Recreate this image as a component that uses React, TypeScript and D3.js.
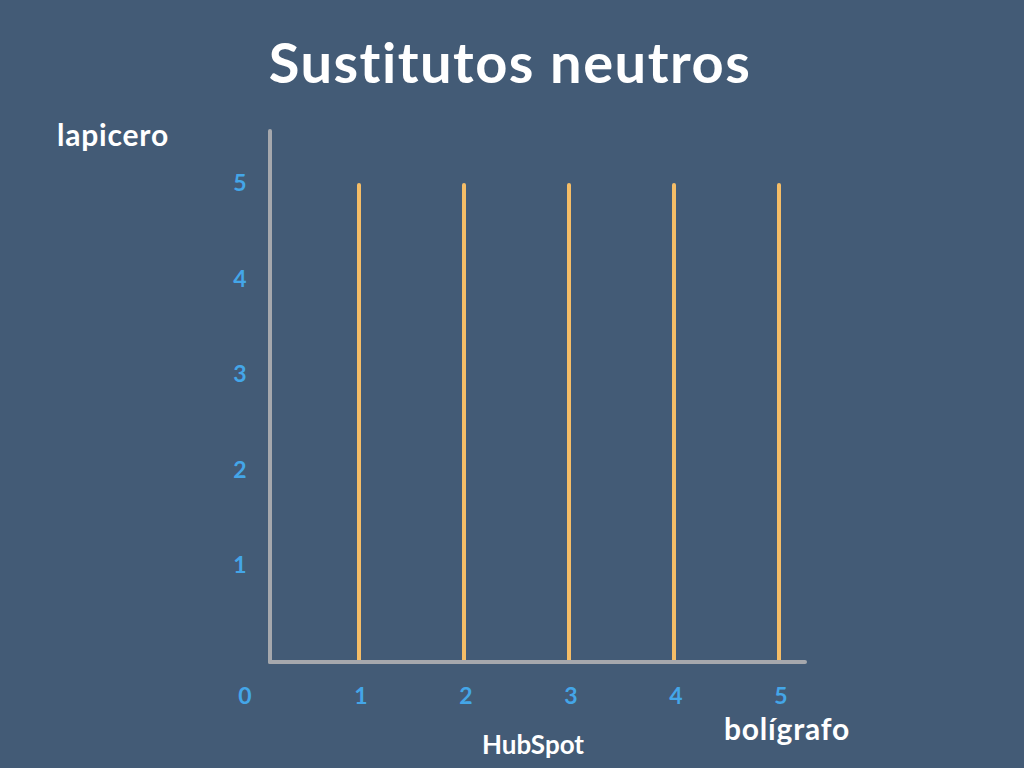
import React, { useEffect, useRef } from 'react';
import * as d3 from 'd3';

// Quantities of bolígrafo at which each indifference line sits
const lineValues = [1, 2, 3, 4, 5];
// Each line runs from lapicero = 0 up to this value
const lineTop = 5;
const xTicks = [1, 2, 3, 4, 5];
const yTicks = [1, 2, 3, 4, 5];

const W = 1024;
const H = 768;

const App: React.FC = () => {
  const svgRef = useRef<SVGSVGElement>(null);

  useEffect(() => {
    if (!svgRef.current) return;
    const svg = d3.select(svgRef.current);
    svg.selectAll('*').remove();

    const font = 'Lato, "Open Sans", sans-serif';
    const x = d3.scaleLinear().domain([0, 5]).range([254, 779]);
    const y = d3.scaleLinear().domain([0, 5]).range([663, 185]);
    const axisX0 = 270;
    const axisY0 = 662;

    svg.append('rect').attr('width', W).attr('height', H).attr('fill', '#435b76');

    // Title
    svg.append('text')
      .attr('x', 510).attr('y', 83)
      .attr('text-anchor', 'middle')
      .style('font-family', font).style('font-weight', 700).style('font-size', '56px')
      .style('letter-spacing', '1.5px')
      .attr('fill', '#ffffff')
      .text('Sustitutos neutros');

    // Indifference lines
    svg.selectAll('line.ind')
      .data(lineValues)
      .join('line')
      .attr('class', 'ind')
      .attr('x1', d => x(d)).attr('x2', d => x(d))
      .attr('y1', y(0) - 2).attr('y2', y(lineTop))
      .attr('stroke', '#f5bd67').attr('stroke-width', 4).attr('stroke-linecap', 'round');

    // Axes
    svg.append('line')
      .attr('x1', axisX0).attr('x2', axisX0).attr('y1', 131).attr('y2', axisY0)
      .attr('stroke', '#a6a8ad').attr('stroke-width', 4).attr('stroke-linecap', 'round');
    svg.append('line')
      .attr('x1', axisX0).attr('x2', 805).attr('y1', axisY0).attr('y2', axisY0)
      .attr('stroke', '#a6a8ad').attr('stroke-width', 4).attr('stroke-linecap', 'round');

    const tickStyle = (sel: d3.Selection<any, any, any, any>) =>
      sel.attr('text-anchor', 'middle')
        .attr('dominant-baseline', 'central')
        .style('font-family', font).style('font-weight', 700).style('font-size', '23px')
        .attr('fill', '#44a6e8');

    svg.selectAll('text.xt')
      .data(xTicks)
      .join('text')
      .attr('class', 'xt')
      .attr('x', d => x(d) + 2).attr('y', 695)
      .text(d => d)
      .call(tickStyle);

    svg.selectAll('text.yt')
      .data(yTicks)
      .join('text')
      .attr('class', 'yt')
      .attr('x', 240).attr('y', d => y(d) - 3)
      .text(d => d)
      .call(tickStyle);

    svg.append('text')
      .attr('x', 245).attr('y', 695)
      .text('0')
      .call(tickStyle);

    // Axis labels
    svg.append('text')
      .attr('x', 57).attr('y', 146)
      .style('font-family', font).style('font-weight', 700).style('font-size', '30px')
      .style('letter-spacing', '0.8px')
      .attr('fill', '#ffffff')
      .text('lapicero');
    svg.append('text')
      .attr('x', 724).attr('y', 740)
      .style('font-family', font).style('font-weight', 700).style('font-size', '30px')
      .style('letter-spacing', '0.8px')
      .attr('fill', '#ffffff')
      .text('bolígrafo');

    // Brand
    svg.append('text')
      .attr('x', 533).attr('y', 754)
      .attr('text-anchor', 'middle')
      .style('font-family', font).style('font-weight', 700).style('font-size', '26px')
      .attr('fill', '#ffffff')
      .text('HubSpot');
  }, []);

  return (
    <div style={{ position: 'absolute', left: 0, top: 0 }}>
      <svg ref={svgRef} width={W} height={H} style={{ display: 'block' }} />
    </div>
  );
};

export default App;
